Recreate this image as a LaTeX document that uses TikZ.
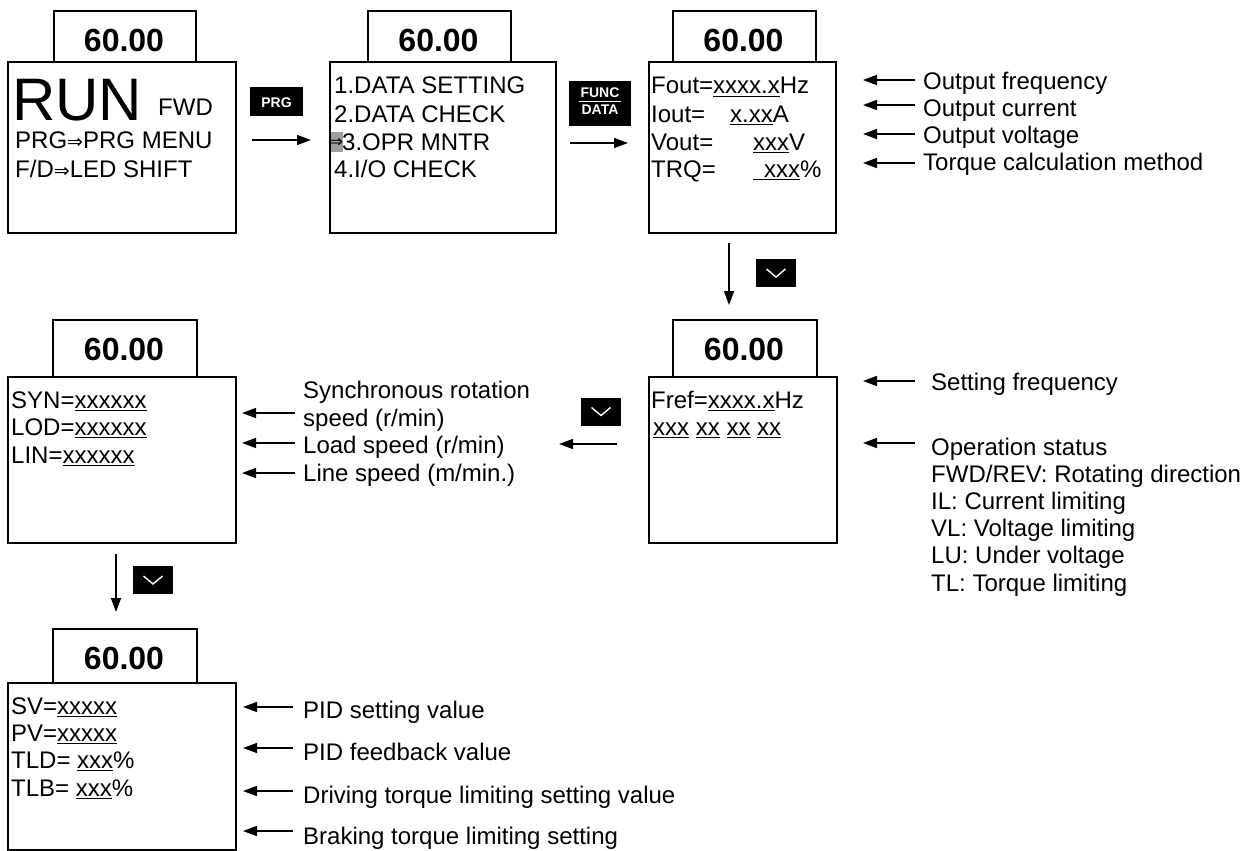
\documentclass[tikz,border=0pt]{standalone}
\usepackage{fontspec}
\setmainfont{Liberation Sans}
\newfontfamily\djv{DejaVu Sans}
\usetikzlibrary{arrows.meta}
\newcommand\myul[1]{\setbox0=\hbox{#1}\rlap{\rule[-3.2pt]{\wd0}{1.5pt}}\box0\relax}
\newcommand\dimp{{\djv\fontsize{19}{19}\selectfont ⇒}}
\begin{document}
\begin{tikzpicture}[x=1pt,y=-1pt,
  box/.style={draw, line width=2pt, inner sep=0pt, anchor=north west},
  txt/.style={anchor=base west, inner sep=0pt, font=\fontsize{24}{28}\selectfont},
  num/.style={anchor=base, inner sep=0pt, font=\bfseries\fontsize{32}{32}\selectfont},
  arr/.style={line width=1.5pt, -{Triangle[length=14pt,width=10pt]}},
  btn/.style={fill=black, text=white, inner sep=0pt},
  btntxt/.style={anchor=base, inner sep=0pt, text=white, font=\bfseries\fontsize{14}{14}\selectfont},
  downbtn/.style={fill=black, inner sep=0pt, minimum width=40pt, minimum height=28pt,
    path picture={\draw[white, line width=1.4pt]
      ([shift={(-9.5pt,4pt)}]path picture bounding box.center) --
      ([shift={(0pt,-4pt)}]path picture bounding box.center) --
      ([shift={(9.5pt,4pt)}]path picture bounding box.center);}}
]
\path[use as bounding box] (0,0) rectangle (1259,851);

% ---------- Box 1
\node[box,minimum width=142pt,minimum height=51pt] (t1) at (53,10) {};
\node[box,minimum width=228pt,minimum height=171pt] (b1) at (7,61) {};
\node[num] (n1) at (124,52) {60.00};
\node[txt,font=\fontsize{60}{60}\selectfont,text depth=0pt] (run) at (12,121) {RUN};
\node[txt] (fwd) at (158,115) {FWD};
\node[txt] (m1) at (15,148) {PRG\dimp PRG MENU};
\node[txt] (m2) at (15,177) {F/D\dimp LED SHIFT};

\node[btn, minimum width=53pt, minimum height=29pt] (prg) at (276.5,101.5) {};
\node[btntxt] (prgt) at (276.5,107) {PRG};

% ---------- Box 2
\node[fill=black!38, minimum width=14pt, minimum height=20pt, inner sep=0pt, anchor=north west] (hl) at (329,132) {};
\node[inner sep=0pt, font=\djv\fontsize{17}{17}\selectfont] (hla) at (336,143) {⇒};
\node[box,minimum width=143pt,minimum height=51pt] (t2) at (367,10) {};
\node[box,minimum width=226pt,minimum height=171pt] (b2) at (329,61) {};
\node[num] (n2) at (438.5,52) {60.00};
\node[txt] (l21) at (334,94) {1.DATA SETTING};
\node[txt] (l22) at (334,122) {2.DATA CHECK};
\node[txt] (l23) at (342,150) {3.OPR MNTR};
\node[txt] (l24) at (334,177) {4.I/O CHECK};

\node[btn, minimum width=62pt, minimum height=45pt,
  path picture={\draw[white, line width=1.2pt]
    ([shift={(-21pt,2pt)}]path picture bounding box.center) --
    ([shift={(21pt,2pt)}]path picture bounding box.center);}] (fd) at (600,103.5) {};
\node[btntxt] (fdt1) at (600,98) {FUNC};
\node[btntxt] (fdt2) at (600,114) {DATA};

% ---------- Box 3
\node[box,minimum width=143pt,minimum height=51pt] (t3) at (672,10) {};
\node[box,minimum width=187pt,minimum height=171pt] (b3) at (648,61) {};
\node[num] (n3) at (743.5,52) {60.00};
\node[txt] (l31) at (651,94) {Fout=\myul{xxxx.x}Hz};
\node[txt] (l32) at (651,122) {\makebox[79pt][l]{Iout=}\myul{x.xx}A};
\node[txt] (l33) at (651,150) {\makebox[102pt][l]{Vout=}\myul{xxx}V};
\node[txt] (l34) at (651,177) {\makebox[102pt][l]{TRQ=}\myul{\hspace{11pt}xxx}\%};

\node[txt] (d31) at (923,89) {Output frequency};
\node[txt] (d32) at (923,116) {Output current};
\node[txt] (d33) at (923,143) {Output voltage};
\node[txt] (d34) at (923,170) {Torque calculation method};

% ---------- Box 5
\node[box,minimum width=144pt,minimum height=57pt] (t5) at (672,319) {};
\node[box,minimum width=188pt,minimum height=166pt] (b5) at (648,376) {};
\node[num] (n5) at (744,360) {60.00};
\node[txt] (l51) at (651,408) {Fref=\myul{xxxx.x}Hz};
\node[txt] (l52) at (653,435) {\myul{xxx} \myul{xx} \myul{xx} \myul{xx}};

\node[txt] (d51) at (931,390) {Setting frequency};
\node[txt] (d52) at (931,455) {Operation status};
\node[txt] (d53) at (931,482.2) {FWD/REV: Rotating direction};
\node[txt] (d54) at (931,509.4) {IL: Current limiting};
\node[txt] (d55) at (931,536.6) {VL: Voltage limiting};
\node[txt] (d56) at (931,563.8) {LU: Under voltage};
\node[txt] (d57) at (931,591) {TL: Torque limiting};

\node[downbtn] (down1) at (776,273) {};
\node[downbtn] (down2) at (601,411.5) {};

% ---------- Box 4
\node[box,minimum width=144pt,minimum height=57pt] (t4) at (52,319) {};
\node[box,minimum width=228pt,minimum height=166pt] (b4) at (7,376) {};
\node[num] (n4) at (124,360) {60.00};
\node[txt] (l41) at (11,408) {SYN=\myul{xxxxxx}};
\node[txt] (l42) at (11,435) {LOD=\myul{xxxxxx}};
\node[txt] (l43) at (11,463) {LIN=\myul{xxxxxx}};

\node[txt] (d41) at (303,398) {Synchronous rotation};
\node[txt] (d41b) at (303,426) {speed (r/min)};
\node[txt] (d42) at (303,453) {Load speed (r/min)};
\node[txt] (d43) at (303,481) {Line speed (m/min.)};

\node[downbtn] (down3) at (153,580) {};

% ---------- Box 6
\node[box,minimum width=144pt,minimum height=54pt] (t6) at (52,628) {};
\node[box,minimum width=228pt,minimum height=167pt] (b6) at (7,682) {};
\node[num] (n6) at (124,669) {60.00};
\node[txt] (l61) at (11,714) {SV=\myul{xxxxx}};
\node[txt] (l62) at (11,741) {PV=\myul{xxxxx}};
\node[txt] (l63) at (11,768) {TLD= \myul{xxx}\%};
\node[txt] (l64) at (11,796) {TLB= \myul{xxx}\%};

\node[txt] (d61) at (303,718) {PID setting value};
\node[txt] (d62) at (303,760) {PID feedback value};
\node[txt] (d63) at (303,803) {Driving torque limiting setting value};
\node[txt] (d64) at (303,844) {Braking torque limiting setting};

% ---------- flow arrows
\draw[arr, shorten <=15pt, shorten >=18pt] ([yshift=7.5pt]b1.east) -- ([yshift=7.5pt]b2.west);
\draw[arr, shorten <=13pt, shorten >=20pt] ([yshift=4.5pt]b2.east) -- ([yshift=4.5pt]b3.west);
\draw[arr, shorten <=9pt, shorten >=14pt] ([xshift=-13.5pt]b3.south) -- ([xshift=-13.5pt]b3.south |- t5.north);
\draw[arr, shorten <=31pt, shorten >=322pt] ([yshift=16pt]b5.west) -- ([yshift=16pt]b4.east);
\draw[arr, shorten <=10pt, shorten >=16pt] ([xshift=-6pt]b4.south) -- ([xshift=-6pt]b4.south |- t6.north);

% ---------- description arrows
\foreach \n/\xa/\xb/\yy in {a1/915/863/80, a2/915/863/105, a3/915/863/134, a4/915/863/163,
  a5/915/863/381, a6/915/863/443,
  a7/295/242/413, a8/295/242/443, a9/295/242/473,
  a10/293/243/707, a11/293/243/748, a12/293/243/791, a13/293/243/831} {
  \coordinate (\n s) at (\xa,\yy);
  \coordinate (\n e) at (\xb,\yy);
  \draw[arr] (\n s) -- (\n e);
}
\end{tikzpicture}
\end{document}
